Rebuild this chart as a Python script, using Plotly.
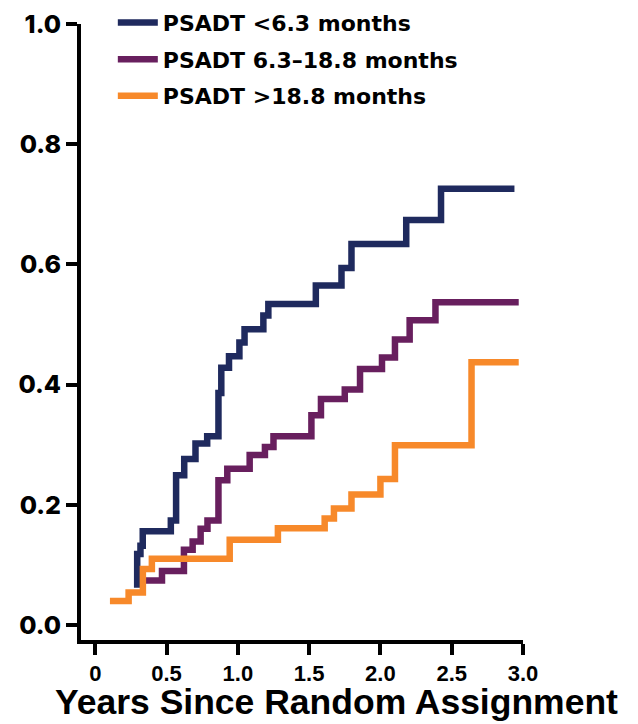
import plotly.graph_objects as go

# ---- data ----
series_names = ["PSADT <6.3 months", "PSADT 6.3\u201318.8 months", "PSADT >18.8 months"]
series_colors = ["#1f2a5e", "#681f5e", "#f7892a"]

blue_x = [0.294, 0.294, 0.317, 0.333, 0.53, 0.567, 0.624, 0.703, 0.785, 0.864, 0.884,
          0.938, 1.011, 1.047, 1.179, 1.214, 1.547, 1.727, 1.797, 2.181, 2.425, 2.94]
blue_y = [0.062, 0.118, 0.132, 0.156, 0.174, 0.249, 0.276, 0.302, 0.314, 0.386, 0.428,
          0.447, 0.470, 0.492, 0.515, 0.534, 0.565, 0.594, 0.634, 0.674, 0.726, 0.726]

purple_x = [0.343, 0.468, 0.622, 0.683, 0.739, 0.787, 0.864, 0.926, 1.083, 1.19, 1.25,
            1.516, 1.583, 1.75, 1.857, 2.011, 2.102, 2.205, 2.386, 2.97]
purple_y = [0.074, 0.090, 0.125, 0.139, 0.160, 0.174, 0.241, 0.260, 0.283, 0.296, 0.314,
            0.349, 0.376, 0.392, 0.426, 0.445, 0.475, 0.507, 0.537, 0.537]

orange_x = [0.103, 0.234, 0.334, 0.397, 0.943, 1.281, 1.609, 1.674, 1.797, 2.0, 2.102, 2.639, 2.97]
orange_y = [0.040, 0.054, 0.093, 0.110, 0.142, 0.161, 0.177, 0.194, 0.217, 0.243, 0.299, 0.437, 0.437]

x_ticks = [0, 0.5, 1.0, 1.5, 2.0, 2.5, 3.0]
x_tick_text = ["0", "0.5", "1.0", "1.5", "2.0", "2.5", "3.0"]
y_ticks = [0.0, 0.2, 0.4, 0.6, 0.8, 1.0]
y_tick_text = ["0.0", "0.2", "0.4", "0.6", "0.8", "1.0"]
x_title = "Years Since Random Assignment"

# ---- figure ----
fig = go.Figure()
all_x = [blue_x, purple_x, orange_x]
all_y = [blue_y, purple_y, orange_y]
for i, (xs, ys) in enumerate(zip(all_x, all_y)):
    fig.add_trace(go.Scatter(
        x=xs, y=ys, mode="lines", line_shape="hv",
        line=dict(color=series_colors[i], width=6.5),
        name=series_names[i], legendgroup=f"g{i}",
    ))

heavy = "Inter, Lato, 'Open Sans', sans-serif"
arial = "'Liberation Sans', Arial, sans-serif"
axis_common = dict(
    showline=True, linewidth=4, linecolor="black",
    ticks="outside", ticklen=11, tickwidth=4, tickcolor="black",
    showgrid=False, zeroline=False,
)

fig.update_layout(
    width=638, height=724,
    margin=dict(l=81, r=115, t=24, b=84, autoexpand=False),
    plot_bgcolor="white", paper_bgcolor="white",
    xaxis=dict(range=[-0.1, 3.0], tickvals=x_ticks, ticktext=x_tick_text,
               tickfont=dict(family=arial, size=22, color="black", weight="bold"), **axis_common),
    yaxis=dict(range=[-0.025, 1.0], tickvals=y_ticks, ticktext=y_tick_text,
               tickfont=dict(family=heavy, size=25, color="black", weight=800), **axis_common),
    showlegend=True,
    legend=dict(
        x=0.072, y=1.036, xanchor="left", yanchor="top",
        font=dict(family="'DejaVu Sans', sans-serif", size=22, color="black", weight="bold"),
        bgcolor="rgba(0,0,0,0)", itemwidth=40, tracegroupgap=5,
    ),
    annotations=[dict(
        text=x_title, xref="paper", yref="paper", x=0.577, y=-0.1362,
        xanchor="center", yanchor="bottom", showarrow=False,
        font=dict(family=arial, size=35.5, color="black", weight="bold"),
    )],
)

fig.write_html("out.html")
